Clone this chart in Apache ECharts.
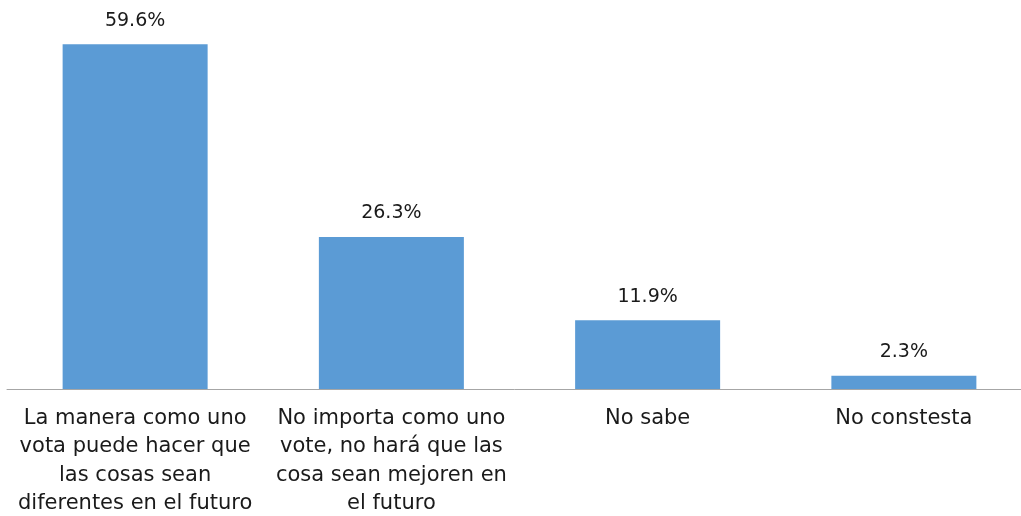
<!DOCTYPE html>
<html>
<head>
<meta charset="utf-8">
<script src="https://cdn.jsdelivr.net/npm/echarts@6/dist/echarts.min.js"></script>
<style>html,body{margin:0;padding:0;background:#fff}#c{width:1021px;height:516px}</style>
</head>
<body>
<div id="c"></div>
<script>
const categories = [
  "La manera como uno\nvota puede hacer que\nlas cosas sean\ndiferentes en el futuro",
  "No importa como uno\nvote, no hará que las\ncosa sean mejoren en\nel futuro",
  "No sabe",
  "No constesta"
];
const values = [59.6, 26.3, 11.9, 2.3];

const chart = echarts.init(document.getElementById('c'));
chart.setOption({
  animation: false,
  grid: { left: 7, right: -11, top: 42, bottom: 127, containLabel: false, outerBoundsMode: 'none' },
  xAxis: {
    type: 'category',
    data: categories,
    axisLine: { lineStyle: { color: '#A6A6A6', width: 1 } },
    axisTick: { show: false },
    axisLabel: {
      interval: 0,
      margin: 15,
      color: '#1a1a1a',
      fontFamily: 'DejaVu Sans',
      fontSize: 21,
      lineHeight: 28.5,
      align: 'center'
    }
  },
  yAxis: {
    type: 'value', min: 0, max: 60, show: false,
    splitLine: { show: false }
  },
  series: [{
    type: 'bar',
    data: values,
    barWidth: 145,
    itemStyle: { color: '#5B9BD5' },
    label: {
      show: true, position: 'top', distance: 14,
      formatter: p => p.value.toFixed(1) + '%',
      color: '#1a1a1a', fontFamily: 'DejaVu Sans', fontSize: 19
    }
  }]
});
</script>
</body>
</html>
